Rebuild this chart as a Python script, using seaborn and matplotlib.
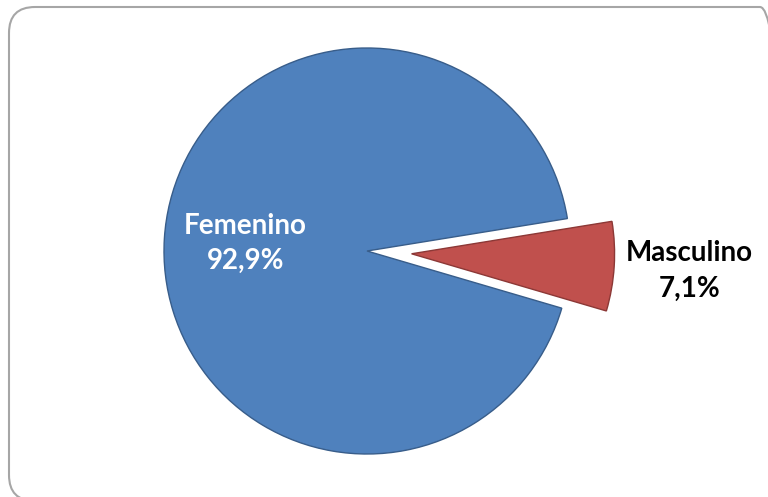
import numpy as np
import matplotlib
matplotlib.use("Agg")
import matplotlib.pyplot as plt
from matplotlib.patches import FancyBboxPatch
import seaborn as sns

sns.set_theme(style="white")
plt.rcParams["font.family"] = ["Lato", "DejaVu Sans"]

# datos
categorias = ["Femenino", "Masculino"]
porcentajes = [92.9, 7.1]
etiquetas_pct = ["92,9%", "7,1%"]
colores = ["#4F81BD", "#C0504D"]
bordes = ["#385D8A", "#8C3836"]
separacion = [0.0, 0.22]          # fraccion del radio
color_texto = ["white", "black"]
dist_texto = [0.6, 1.37]

W, H = 768, 497
fig = plt.figure(figsize=(W / 100, H / 100), dpi=100)
ax = fig.add_axes([0, 0, 1, 1])

cx, cy, R = 367, 246, 203
wedges, _ = ax.pie(porcentajes, colors=colores,
                   explode=[e * R for e in separacion],
                   startangle=9.2, counterclock=True, radius=R,
                   center=(cx, cy), frame=True,
                   wedgeprops=dict(linewidth=1.0))
for w, ec in zip(wedges, bordes):
    w.set_edgecolor(ec)

ax.set_xlim(0, W); ax.set_ylim(0, H)
ax.set_aspect("equal")
ax.axis("off")

# marco redondeado (se sale por la derecha y por abajo, como en el original)
marco = FancyBboxPatch((9, -4), 777, 494, boxstyle="round,pad=0,rounding_size=26",
                       facecolor="none", edgecolor="#A6A6A6", linewidth=1.5,
                       zorder=0, clip_on=False)
ax.add_patch(marco)

for w, cat, pct, tc, d in zip(wedges, categorias, etiquetas_pct, color_texto, dist_texto):
    ang = np.deg2rad((w.theta1 + w.theta2) / 2)
    x = w.center[0] + d * w.r * np.cos(ang)
    y = w.center[1] + d * w.r * np.sin(ang)
    ax.text(x, y, f"{cat}\n{pct}", ha="center", va="center", color=tc,
            fontsize=20, fontweight="bold", linespacing=1.45)

fig.savefig("out.png", dpi=100, facecolor="white")
